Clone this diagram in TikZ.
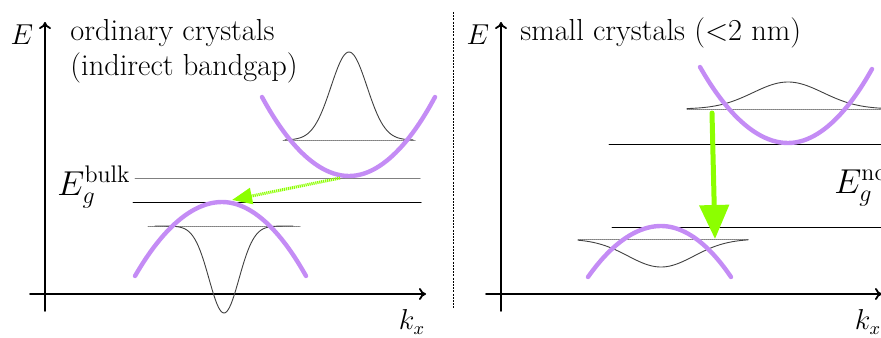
\documentclass[tikz,border=0pt]{standalone}
\usepackage{xcolor}
\usetikzlibrary{arrows.meta}
\definecolor{bandpurple}{RGB}{196,140,245}
\definecolor{photongreen}{RGB}{140,255,0}

\begin{document}
\begin{tikzpicture}[x=0.5pt, y=-0.5pt, line cap=round, line join=round,
  axis/.style={line width=0.9pt, -{To[length=3.5pt,width=6pt]}},
  level/.style={line width=0.5pt},
  band/.style={bandpurple, line width=2.2pt},
  wave/.style={black!75, line width=0.45pt},
  wavebase/.style={gray, line width=0.5pt, dash pattern=on 0.6pt off 0.4pt},
  title/.style={font=\fontsize{15.2}{18}\selectfont, inner sep=0pt},
  axlabel/.style={font=\fontsize{13.5}{16}\selectfont},
  gaplabel/.style={font=\fontsize{16.5}{19}\selectfont, inner sep=0pt}]
  \clip (0,0) rectangle (881,337);
  \foreach \ox [count=\p] in {0,456} {
    \coordinate (eorig\p) at (45+\ox,311);
    \coordinate (etop\p) at (45+\ox,22);
    \coordinate (kleft\p) at (30+\ox,294);
    \coordinate (kright\p) at (426+\ox,294);
    \draw[axis] (eorig\p) -- (etop\p);
    \draw[axis] (kleft\p) -- (kright\p);
    \node[axlabel] (elabel\p) at (22+\ox,35) {$E$};
    \node[axlabel] (klabel\p) at (412+\ox,322) {$k_x$};
  }
  \coordinate (divtop) at (453,12);
  \coordinate (divbot) at (453,308);
  \draw[line width=0.5pt, dash pattern=on 1pt off 0.6pt, line cap=butt] (divtop) -- (divbot);

  % ordinary crystals
  \node[title, anchor=base west] (ordinary) at (70,40) {ordinary crystals};
  \node[title, anchor=base west] (indirect) at (70,75) {(indirect bandgap)};
  \coordinate (cbl) at (135,178);
  \coordinate (cbr) at (420,178);
  \coordinate (vbl) at (133,202);
  \coordinate (vbr) at (421,202);
  \draw[level, gray] (cbl) -- (cbr);
  \draw[level] (vbl) -- (vbr);
  \node[gaplabel, anchor=base east] (egbulk) at (131,195) {$E_g^{\mathrm{bulk}}$};
  \draw[wavebase] (283,140) -- (415,140);
  \draw[wave] plot[domain=285:413, samples=90] (\x,{140-88*exp(-((\x-349)/18)^2/2)});
  \draw[wavebase] (148,226) -- (300,226);
  \draw[wave] plot[domain=155:293, samples=90] (\x,{226+87*exp(-((\x-224)/15)^2/2)});
  \draw[band] (262,97) parabola bend (349,176) (435,97);
  \draw[band] (135,276) parabola bend (222,202) (306,276);
  \coordinate (cbmin) at (340,178);
  \coordinate (vbmax) at (232,200);
  \draw[photongreen, line width=1.5pt, dash pattern=on 0.6pt off 0.4pt, line cap=butt,
    -{Triangle[length=10pt,width=8pt]}] (cbmin) -- (vbmax);

  % small crystals
  \node[title, anchor=base west] (small) at (520,40) {small crystals (<2 nm)};
  \coordinate (ncl) at (609,144);
  \coordinate (ncr) at (900,144);
  \coordinate (nvl) at (612,227);
  \coordinate (nvr) at (900,227);
  \draw[level] (ncl) -- (ncr);
  \draw[level] (nvl) -- (nvr);
  \node[gaplabel, anchor=base west] (egnc) at (834,193) {$E_g^{\mathrm{nc}}$};
  \draw[wavebase] (687,109) -- (900,109);
  \draw[wave] plot[domain=687:900, samples=90] (\x,{109-27*exp(-((\x-788)/35)^2/2)});
  \draw[wavebase] (578,239) -- (748,239);
  \draw[wave] plot[domain=578:748, samples=90] (\x,{239+28*exp(-((\x-661)/33)^2/2)});
  \draw[band] (700,67) parabola bend (788,143) (872,69);
  \draw[band] (588,277) parabola bend (661,226) (731,277);
  \coordinate (ncup) at (712,113);
  \coordinate (ncdown) at (715,239);
  \draw[photongreen, line width=2.5pt, -{Triangle[length=17pt,width=14.5pt]}] (ncup) -- (ncdown);
\end{tikzpicture}
\end{document}
